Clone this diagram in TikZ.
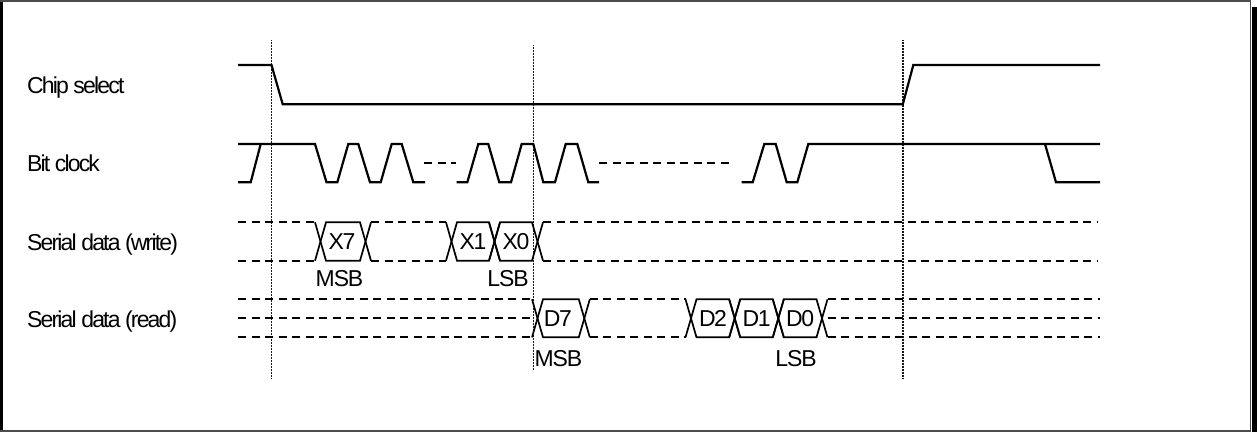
\documentclass[tikz,border=0pt]{standalone}
\usepackage{fontspec}
\setmainfont{Liberation Sans}
\newfontfamily\labfont[LetterSpace=-8]{Liberation Sans}
\newfontfamily\bitfont[LetterSpace=-6]{Liberation Sans}
\newfontfamily\sbfont[LetterSpace=-5]{Liberation Sans}
\begin{document}
\begin{tikzpicture}[x=1pt,y=-1pt,
  wave/.style={line width=2.2pt},
  busline/.style={line width=1.7pt},
  undef/.style={line width=2pt, dash pattern=on 8pt off 5.5pt},
  marker/.style={line width=1.5pt, black!90, dash pattern=on 1pt off 0.5pt},
  sig/.style={anchor=base west, inner sep=0pt, font=\labfont\fontsize{23}{27}\selectfont},
  bit/.style={inner sep=0pt, font=\bitfont\fontsize{23}{27}\selectfont},
  sb/.style={inner sep=0pt, font=\sbfont\fontsize{23}{27}\selectfont},
  frameline/.style={line width=1.5pt, black!70}]
\useasboundingbox (0,0) rectangle (1257,432);
% frame
\fill[black] (0,0) rectangle (3,432);
\draw[frameline] (0,1) -- (1250.5,1) -- (1250.5,430.8) -- (0,430.8);
\fill[black] (1251.5,7) rectangle (1257,432);
% signal names
\node[sig] (cs) at (27,93.3) {Chip select};
\node[sig] (clk) at (27,171.9) {Bit clock};
\node[sig] (wr) at (27,250.2) {Serial data (write)};
\node[sig] (rd) at (27,327.5) {Serial data (read)};
% markers
\coordinate (m1t) at (271.5,40); \coordinate (m1b) at (271.5,378);
\coordinate (m2t) at (533.3,45); \coordinate (m2b) at (533.3,370);
\coordinate (m3t) at (902.8,40); \coordinate (m3b) at (902.8,378);
\draw[marker] (m1t) -- (m1b);
\draw[marker] (m2t) -- (m2b);
\draw[marker] (m3t) -- (m3b);
% chip select
\draw[wave] (238,65) -- (271.5,65) -- (282.7,104.3) -- (902.8,104.3) -- (913.3,65) -- (1100,65);
% bit clock
\def\H{144}\def\L{182.3}\def\M{163.2}
\draw[wave] (238,\L) -- (250.7,\L) -- (260.7,\H);
\draw[wave] (238,\H) -- (315,\H) -- (326.5,\L) -- (337.3,\L) -- (348.3,\H) -- (358.3,\H)
  -- (370,\L) -- (380.7,\L) -- (391.7,\H) -- (401.7,\H) -- (413.3,\L) -- (425,\L);
\draw[undef] (424,\M) -- (456,\M);
\draw[wave] (456.7,\L) -- (467.3,\L) -- (478.3,\H) -- (488.3,\H) -- (499.3,\L) -- (511,\L)
  -- (521.7,\H) -- (533.3,\H) -- (543.3,\L) -- (555,\L) -- (565.7,\H) -- (577.3,\H)
  -- (588.3,\L) -- (599,\L);
\draw[undef] (599,\M) -- (733,\M);
\draw[wave] (741.7,\L) -- (752.7,\L) -- (764.3,\H) -- (775.7,\H) -- (786.7,\L) -- (797.3,\L)
  -- (808.3,\H) -- (1100,\H);
\draw[wave] (1045,\H) -- (1056,\L) -- (1100,\L);
% serial data write
\def\d{5.5}
\def\T{222.3}\def\B{260.7}
\draw[undef] (238,\T) -- (320.5-\d,\T);
\draw[undef] (238,\B) -- (320.5-\d,\B);
\draw[undef] (365.5+\d,\T) -- (451.5-\d,\T);
\draw[undef] (365.5+\d,\B) -- (451.5-\d,\B);
\draw[undef] (537.5+\d,\T) -- (1097,\T);
\draw[undef] (537.5+\d,\B) -- (1097,\B);
\foreach \l/\r in {320.5/365.5, 451.5/494.5, 494.5/537.5}{
  \draw[busline] (\l-\d,\T) -- (\l+\d,\B) -- (\r-\d,\B) -- (\r+\d,\T);
  \draw[busline] (\l-\d,\B) -- (\l+\d,\T) -- (\r-\d,\T) -- (\r+\d,\B);
}
\node[bit] (x7) at (342,241.5) {X7};
\node[bit] (x1) at (473,241.5) {X1};
\node[bit] (x0) at (516,241.5) {X0};
\node[sb] (wmsb) at (339.5,279) {MSB};
\node[sb] (wlsb) at (508,279) {LSB};
% serial data read
\def\T{299.3}\def\B{337.3}\def\C{318.3}
\draw[undef] (238,\T) -- (537.5-\d,\T);
\draw[undef] (238,\C) -- (537.5-\d,\C);
\draw[undef] (238,\B) -- (537.5-\d,\B);
\draw[undef] (584.3+\d,\T) -- (691-\d,\T);
\draw[undef] (584.3+\d,\B) -- (691-\d,\B);
\draw[undef] (822+\d,\T) -- (1100,\T);
\draw[undef] (822+\d,\C) -- (1100,\C);
\draw[undef] (822+\d,\B) -- (1100,\B);
\foreach \l/\r in {537.5/584.3, 691/734.7, 734.7/778.3, 778.3/822}{
  \draw[busline] (\l-\d,\T) -- (\l+\d,\B) -- (\r-\d,\B) -- (\r+\d,\T);
  \draw[busline] (\l-\d,\B) -- (\l+\d,\T) -- (\r-\d,\T) -- (\r+\d,\B);
}
\node[bit] (d7) at (558,318.3) {D7};
\node[bit] (d2) at (713,318.3) {D2};
\node[bit] (d1) at (756.5,318.3) {D1};
\node[bit] (d0) at (800,318.3) {D0};
\node[sb] (rmsb) at (558.3,358.3) {MSB};
\node[sb] (rlsb) at (796,358.3) {LSB};
\end{tikzpicture}
\end{document}
